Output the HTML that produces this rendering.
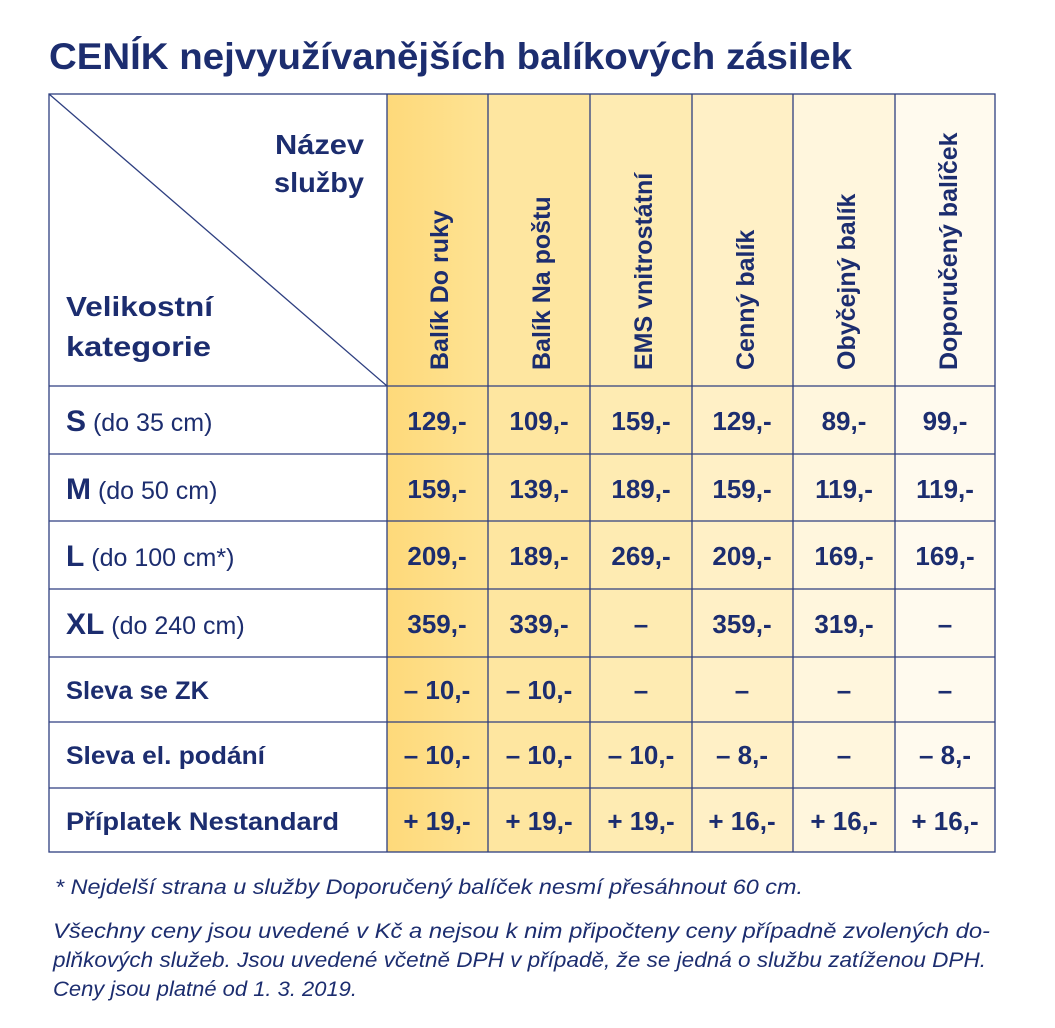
<!DOCTYPE html>
<html><head><meta charset="utf-8"><style>
html,body{margin:0;padding:0;background:#fff}
svg{display:block}
text{font-family:"Liberation Sans",sans-serif;fill:#1c2d6f}
.b{font-weight:bold}
</style></head><body>
<svg width="1055" height="1028" viewBox="0 0 1055 1028">
<defs>
<linearGradient id="g1" x1="0" y1="0" x2="1" y2="0"><stop offset="0" stop-color="#fed97a"/><stop offset="1" stop-color="#fee394"/></linearGradient>
</defs>
<text x="49" y="69" class="b" font-size="37" textLength="803" lengthAdjust="spacingAndGlyphs">CENÍK nejvyužívanějších balíkových zásilek</text>
<rect x="387" y="94" width="101" height="758" fill="url(#g1)"/>
<rect x="488" y="94" width="102" height="758" fill="#fee6a0"/>
<rect x="590" y="94" width="102" height="758" fill="#feebb2"/>
<rect x="692" y="94" width="101" height="758" fill="#fff0c6"/>
<rect x="793" y="94" width="102" height="758" fill="#fff6dd"/>
<rect x="895" y="94" width="100" height="758" fill="#fffaee"/>
<g stroke="#2e3f80" stroke-width="1.3" fill="none">
<rect x="49" y="94" width="946" height="758"/>
<line x1="49" y1="94" x2="387" y2="386"/>
<line x1="387" y1="94" x2="387" y2="852"/>
<line x1="488" y1="94" x2="488" y2="852"/>
<line x1="590" y1="94" x2="590" y2="852"/>
<line x1="692" y1="94" x2="692" y2="852"/>
<line x1="793" y1="94" x2="793" y2="852"/>
<line x1="895" y1="94" x2="895" y2="852"/>
<line x1="49" y1="386" x2="995" y2="386"/>
<line x1="49" y1="454" x2="995" y2="454"/>
<line x1="49" y1="521" x2="995" y2="521"/>
<line x1="49" y1="589" x2="995" y2="589"/>
<line x1="49" y1="657" x2="995" y2="657"/>
<line x1="49" y1="722" x2="995" y2="722"/>
<line x1="49" y1="788" x2="995" y2="788"/>
</g>
<text x="364" y="154" class="b" font-size="28" text-anchor="end" textLength="89" lengthAdjust="spacingAndGlyphs">Název</text>
<text x="364" y="192" class="b" font-size="28" text-anchor="end" textLength="90" lengthAdjust="spacingAndGlyphs">služby</text>
<text x="66" y="316" class="b" font-size="28" textLength="147" lengthAdjust="spacingAndGlyphs">Velikostní</text>
<text x="66" y="356" class="b" font-size="28" textLength="145" lengthAdjust="spacingAndGlyphs">kategorie</text>
<g class="b" font-size="25">
<text transform="translate(448,370) rotate(-90)">Balík Do ruky</text>
<text transform="translate(550,370) rotate(-90)">Balík Na poštu</text>
<text transform="translate(652,370) rotate(-90)">EMS vnitrostátní</text>
<text transform="translate(754,370) rotate(-90)">Cenný balík</text>
<text transform="translate(855,370) rotate(-90)">Obyčejný balík</text>
<text transform="translate(957,370) rotate(-90)">Doporučený balíček</text>
</g>
<g font-size="25">
<text x="66" y="431"><tspan class="b" font-size="30">S</tspan> (do 35 cm)</text>
<text x="66" y="499"><tspan class="b" font-size="30">M</tspan> (do 50 cm)</text>
<text x="66" y="566"><tspan class="b" font-size="30">L</tspan> (do 100 cm*)</text>
<text x="66" y="634"><tspan class="b" font-size="30">XL</tspan> (do 240 cm)</text>
</g>
<g class="b" font-size="25">
<text x="66" y="699" textLength="143" lengthAdjust="spacingAndGlyphs">Sleva se ZK</text>
<text x="66" y="764" textLength="199" lengthAdjust="spacingAndGlyphs">Sleva el. podání</text>
<text x="66" y="830" textLength="273" lengthAdjust="spacingAndGlyphs">Příplatek Nestandard</text>
</g>
<g class="b" font-size="26" text-anchor="middle">
<text x="437" y="430">129,-</text><text x="539" y="430">109,-</text><text x="641" y="430">159,-</text><text x="742" y="430">129,-</text><text x="844" y="430">89,-</text><text x="945" y="430">99,-</text>
<text x="437" y="498">159,-</text><text x="539" y="498">139,-</text><text x="641" y="498">189,-</text><text x="742" y="498">159,-</text><text x="844" y="498">119,-</text><text x="945" y="498">119,-</text>
<text x="437" y="565">209,-</text><text x="539" y="565">189,-</text><text x="641" y="565">269,-</text><text x="742" y="565">209,-</text><text x="844" y="565">169,-</text><text x="945" y="565">169,-</text>
<text x="437" y="633">359,-</text><text x="539" y="633">339,-</text><text x="641" y="633">–</text><text x="742" y="633">359,-</text><text x="844" y="633">319,-</text><text x="945" y="633">–</text>
<text x="437" y="699">– 10,-</text><text x="539" y="699">– 10,-</text><text x="641" y="699">–</text><text x="742" y="699">–</text><text x="844" y="699">–</text><text x="945" y="699">–</text>
<text x="437" y="764">– 10,-</text><text x="539" y="764">– 10,-</text><text x="641" y="764">– 10,-</text><text x="742" y="764">– 8,-</text><text x="844" y="764">–</text><text x="945" y="764">– 8,-</text>
<text x="437" y="830">+ 19,-</text><text x="539" y="830">+ 19,-</text><text x="641" y="830">+ 19,-</text><text x="742" y="830">+ 16,-</text><text x="844" y="830">+ 16,-</text><text x="945" y="830">+ 16,-</text>
</g>
<g font-size="21" font-style="italic">
<text x="55" y="894" textLength="748" lengthAdjust="spacingAndGlyphs">*  Nejdelší strana u služby Doporučený balíček nesmí přesáhnout 60 cm.</text>
<text x="53" y="938" textLength="937" lengthAdjust="spacingAndGlyphs">Všechny ceny jsou uvedené v Kč a nejsou k nim připočteny ceny případně zvolených do-</text>
<text x="53" y="967" textLength="933" lengthAdjust="spacingAndGlyphs">plňkových služeb. Jsou uvedené včetně DPH v případě, že se jedná o službu zatíženou DPH.</text>
<text x="53" y="996" textLength="304" lengthAdjust="spacingAndGlyphs">Ceny jsou platné od 1. 3. 2019.</text>
</g>
</svg>
</body></html>
